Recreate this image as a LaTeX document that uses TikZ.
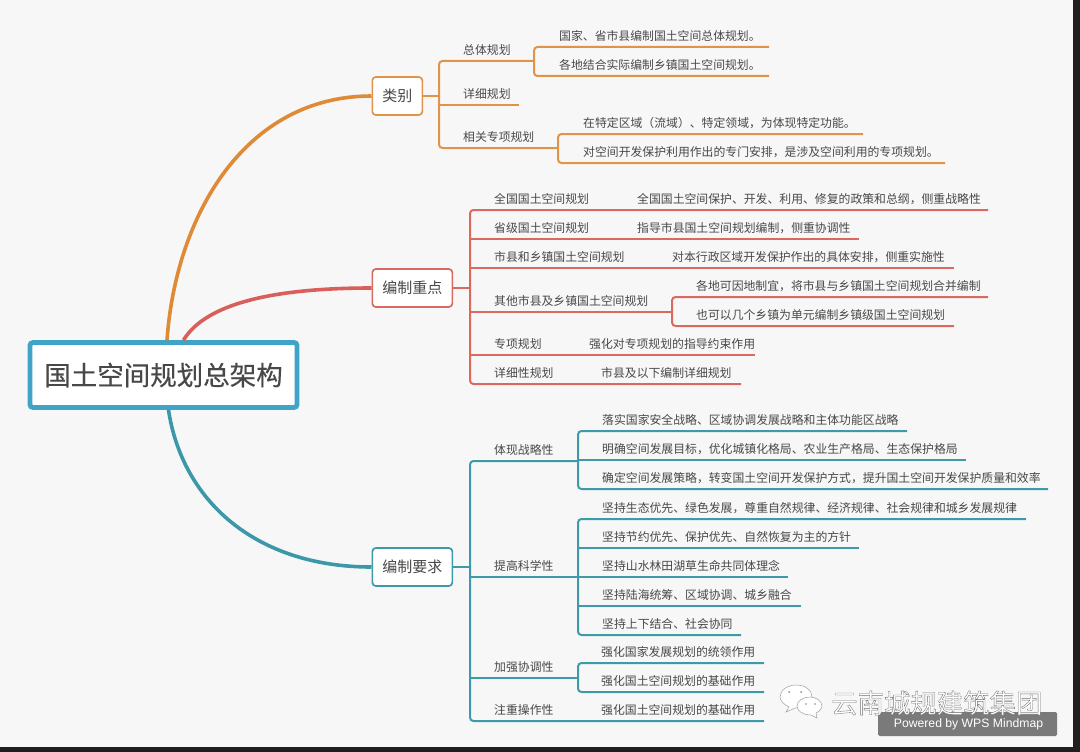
\documentclass[tikz,border=0pt]{standalone}
\usepackage{fontspec}
\setmainfont{Noto Sans CJK SC}
\setsansfont{Liberation Sans}
\definecolor{pagebg}{HTML}{F7F7F8}
\definecolor{ink}{HTML}{484848}
\definecolor{orgc}{HTML}{E0944A}
\definecolor{redc}{HTML}{DA6A60}
\definecolor{teac}{HTML}{3E9AA8}
\definecolor{orgd}{HTML}{DF8A36}
\definecolor{redd}{HTML}{D95F5A}
\definecolor{tead}{HTML}{3C98A8}
\definecolor{rootc}{HTML}{3FA4C6}
\tikzset{
  txt/.style={text=ink,font=\fontsize{11.85}{14}\selectfont,inner sep=0pt,anchor=west},
  catbox/.style={draw,fill=white,rounded corners=3.5pt,line width=1.7pt,text=ink,font=\fontsize{15}{18}\selectfont,inner sep=0pt,minimum height=38pt,anchor=west},
  rootbox/.style={draw=rootc,fill=white,rounded corners=3pt,line width=4.8pt,text=ink,font=\fontsize{26.5}{30}\selectfont\addfontfeature{FakeBold=0.4},inner sep=0pt,minimum width=267pt,minimum height=65pt},
  lnk/.style={line width=2pt,rounded corners=3.5pt},
  stub/.style={line width=2.6pt},
  curve/.style={line width=3.6pt},
}
% \lf{name}{line start x}{text x}{line end x}{underline y}{text}
\newcommand{\lf}[6]{%
  \node[txt] (#1) at (#3,#5-10.8) {#6};
  \coordinate (#1-l) at (#2,#5);
  \coordinate (#1-r) at (#4,#5);
}
\begin{document}
\begin{tikzpicture}[x=1pt,y=-1pt]
\useasboundingbox (0,0) rectangle (1080,752);
\fill[black!88] (0,0) rectangle (1080,752);
\fill[pagebg] (0,0) rectangle (1073,747);

% --- root and category nodes
\node[rootbox] (root) at (163.5,375) {国土空间规划总架构};
\node[catbox,draw=orgc,minimum width=50pt] (cat1) at (371.5,96) {类别};
\node[catbox,draw=redc,minimum width=80pt] (cat2) at (371.5,288) {编制重点};
\node[catbox,draw=teac,minimum width=80pt] (cat3) at (371.5,567) {编制要求};

% --- category 1
\lf{a1}{439}{463}{534}{61}{总体规划}
\lf{a11}{534}{559}{769}{47}{国家、省市县编制国土空间总体规划。}
\lf{a12}{534}{559}{769}{76}{各地结合实际编制乡镇国土空间规划。}
\lf{a2}{439}{463}{519}{105}{详细规划}
\lf{a3}{439}{463}{558}{148}{相关专项规划}
\lf{a31}{558}{583}{863}{134}{在特定区域（流域）、特定领域，为体现特定功能。}
\lf{a32}{558}{583}{945}{163}{对空间开发保护利用作出的专门安排，是涉及空间利用的专项规划。}

% --- category 2
\lf{b1}{470}{494}{613}{210}{全国国土空间规划}
\lf{b11}{613}{637}{988}{210}{全国国土空间保护、开发、利用、修复的政策和总纲，侧重战略性}
\lf{b2}{470}{494}{613}{239}{省级国土空间规划}
\lf{b21}{613}{637}{859}{239}{指导市县国土空间规划编制，侧重协调性}
\lf{b3}{470}{494}{648}{268}{市县和乡镇国土空间规划}
\lf{b31}{648}{672}{954}{268}{对本行政区域开发保护作出的具体安排，侧重实施性}
\lf{b4}{470}{494}{672}{312}{其他市县及乡镇国土空间规划}
\lf{b41}{672}{696}{988}{297}{各地可因地制宜，将市县与乡镇国土空间规划合并编制}
\lf{b42}{672}{696}{954}{326}{也可以几个乡镇为单元编制乡镇级国土空间规划}
\lf{b5}{470}{494}{565}{355}{专项规划}
\lf{b51}{565}{589}{755}{355}{强化对专项规划的指导约束作用}
\lf{b6}{470}{494}{577}{384}{详细性规划}
\lf{b61}{577}{601}{741}{384}{市县及以下编制详细规划}

% --- category 3
\lf{c1}{470}{494}{578}{461}{体现战略性}
\lf{c11}{578}{602}{907}{431}{落实国家安全战略、区域协调发展战略和主体功能区战略}
\lf{c12}{578}{602}{966}{460}{明确空间发展目标，优化城镇化格局、农业生产格局、生态保护格局}
\lf{c13}{578}{602}{1048}{489}{确定空间发展策略，转变国土空间开发保护方式，提升国土空间开发保护质量和效率}
\lf{c2}{470}{494}{578}{577}{提高科学性}
\lf{c21}{578}{602}{1026}{519}{坚持生态优先、绿色发展，尊重自然规律、经济规律、社会规律和城乡发展规律}
\lf{c22}{578}{602}{859}{548}{坚持节约优先、保护优先、自然恢复为主的方针}
\lf{c23}{578}{602}{788}{577}{坚持山水林田湖草生命共同体理念}
\lf{c24}{578}{602}{801}{606}{坚持陆海统筹、区域协调、城乡融合}
\lf{c25}{578}{602}{741}{635}{坚持上下结合、社会协同}
\lf{c3}{470}{494}{578}{678}{加强协调性}
\lf{c31}{578}{601}{764}{663}{强化国家发展规划的统领作用}
\lf{c32}{578}{601}{764}{692}{强化国土空间规划的基础作用}
\lf{c4}{470}{494}{578}{721}{注重操作性}
\lf{c41}{578}{601}{764}{721}{强化国土空间规划的基础作用}

% --- main curves
\draw[curve,orgd] ([xshift=3.5pt]root.north) .. controls (176,215) and (245,96) .. (cat1.west);
\draw[curve,redd] ([xshift=20pt]root.north) .. controls (208,300) and (285,288) .. (cat2.west);
\draw[curve,tead] ([xshift=5pt]root.south) .. controls (182,500) and (255,567) .. (cat3.west);

% --- orange links
\draw[stub,orgc] (cat1.east) -- (cat1.east -| a1-l);
\begin{scope}[lnk,orgc]
\draw (a1-r) -- (a1-l) -- (a3-l) -- (a3-r);
\draw (a2-l) -- (a2-r);
\draw (a11-r) -- (a11-l) -- (a12-l) -- (a12-r);
\draw (a31-r) -- (a31-l) -- (a32-l) -- (a32-r);
\end{scope}

% --- red links
\draw[stub,redc] (cat2.east) -- (cat2.east -| b1-l);
\begin{scope}[lnk,redc]
\draw (b11-r) -- (b1-l) -- (b6-l) -- (b61-r);
\draw (b2-l) -- (b21-r);
\draw (b3-l) -- (b31-r);
\draw (b4-l) -- (b4-r);
\draw (b5-l) -- (b51-r);
\draw (b41-r) -- (b41-l) -- (b42-l) -- (b42-r);
\end{scope}

% --- teal links
\draw[stub,teac] (cat3.east) -- (cat3.east -| c1-l);
\begin{scope}[lnk,teac]
\draw (c1-r) -- (c1-l) -- (c4-l) -- (c41-r);
\draw (c2-l) -- (c2-r);
\draw (c3-l) -- (c3-r);
\draw (c11-r) -- (c11-l) -- (c13-l) -- (c13-r);
\draw (c12-l) -- (c12-r);
\draw (c21-r) -- (c21-l) -- (c25-l) -- (c25-r);
\draw (c22-l) -- (c22-r);
\draw (c23-l) -- (c23-r);
\draw (c24-l) -- (c24-r);
\draw (c31-r) -- (c31-l) -- (c32-l) -- (c32-r);
\end{scope}

% --- badge and watermark
\fill[black!52,rounded corners=1.5pt] (878,712) rectangle (1057,736);
\node[text=white,font=\sffamily\fontsize{12.2}{14}\selectfont,inner sep=0pt] (wps) at (968.5,724.5) {Powered by WPS Mindmap};
\begin{scope}[draw=black!38,line width=.5pt,fill=white]
\filldraw (786,712) -- (789,707) .. controls (783,704) and (780,700) .. (780,697) .. controls (780,690) and (788,685) .. (796,685) .. controls (805,685) and (812,690) .. (812,697) .. controls (812,703) and (804,708) .. (795,708) -- cycle;
\filldraw (817,718) -- (816,713) .. controls (820,711) and (822,708) .. (822,706) .. controls (822,701) and (816,697) .. (810,697) .. controls (803,697) and (797,701) .. (797,706) .. controls (797,711) and (803,715) .. (811,715) -- cycle;
\fill[black!45] (789,692) circle (1pt) (801,692) circle (1pt) (806,704) circle (.9pt) (815,704) circle (.9pt);
\end{scope}
\node[text=white,font=\fontsize{26.4}{30}\selectfont,inner sep=0pt,anchor=west] (wm) at (831,703) {\special{pdf:code 2 Tr 0.35 w 0.45 0.45 0.45 RG}云南城规建筑集团\special{pdf:code 0 Tr}};
\end{tikzpicture}
\end{document}
